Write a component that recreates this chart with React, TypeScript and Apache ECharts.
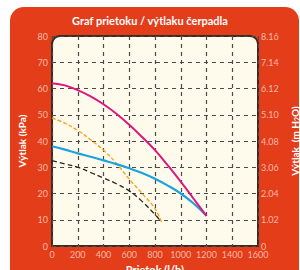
import React, { useEffect, useRef } from "react";
import * as echarts from "echarts";

const flowMain = [0, 100, 200, 300, 400, 500, 600, 700, 800, 900, 1000, 1100, 1200];
const pressureMagenta = [62, 61.2, 59.4, 57, 54, 50.4, 46.2, 41.5, 36.5, 30.7, 24.5, 18, 11.5];
const pressureBlue = [38, 36.7, 35.3, 34, 32.6, 31.2, 29.6, 27.8, 25.6, 23, 20, 16.2, 11.5];
const flowOrange = [0, 100, 200, 300, 400, 500, 600, 700, 800, 855];
const pressureOrange = [48.8, 46.8, 44, 40.5, 36.5, 31.5, 25.5, 20, 14.2, 8.5];
const flowBlack = [0, 100, 200, 300, 400, 500, 600, 700, 800, 845];
const pressureBlack = [32.5, 31.3, 30, 28, 25.9, 23.7, 21, 17, 12, 9.5];

const titleText = "Graf prietoku / výtlaku čerpadla";
const xName = "Prietok (l/h)";
const yLeftName = "Výtlak (kPa)";

const pair = (xs: number[], ys: number[]) => xs.map((x, i) => [x, ys[i]]);

const FONT = "Lato";
const LABEL = "#F8B9A6";
const GRID_L = 52, GRID_T = 36, GRID_R = 42, GRID_B = 24;

export default function App() {
  const ref = useRef<HTMLDivElement>(null);
  useEffect(() => {
    if (!ref.current) return;
    const chart = echarts.init(ref.current, undefined, { renderer: "svg" });
    const splitLine = { show: true, lineStyle: { color: "#4a4a4a", type: [4, 4] as any, width: 1.2 } };
    chart.setOption({
      animation: false,
      backgroundColor: "#ffffff",
      textStyle: { fontFamily: FONT },
      title: {
        text: titleText,
        left: "center",
        top: 10,
        textStyle: { color: "#ffffff", fontSize: 11, fontWeight: "bold", fontFamily: FONT },
      },
      graphic: [
        {
          type: "rect",
          z: -10,
          silent: true,
          shape: { x: 10, y: 7, width: 289, height: 280, r: [14, 14, 0, 0] },
          style: { fill: "#E33D1A" },
        },
        {
          type: "rect",
          z: -9,
          silent: true,
          shape: { x: GRID_L, y: GRID_T, width: 300 - GRID_L - GRID_R, height: 270 - GRID_T - GRID_B, r: [8, 8, 0, 0] },
          style: { fill: "#FFFBEC", stroke: "#3B2A24", lineWidth: 2 },
        },
      ],
      grid: { left: GRID_L, top: GRID_T, right: GRID_R, bottom: GRID_B, containLabel: false, outerBoundsMode: "none" },
      xAxis: {
        type: "value",
        min: 0,
        max: 1600,
        interval: 200,
        name: xName,
        nameLocation: "middle",
        nameGap: 16,
        nameTextStyle: { color: "#ffffff", fontSize: 11, fontWeight: "bold", fontFamily: FONT },
        axisLine: { show: false },
        axisTick: { show: false },
        axisLabel: { color: LABEL, fontSize: 9, margin: 4, fontFamily: FONT, formatter: (v: number) => String(v) },
        splitLine,
      },
      yAxis: [
        {
          type: "value",
          min: 0,
          max: 80,
          interval: 10,
          name: yLeftName,
          nameLocation: "middle",
          nameRotate: 90,
          nameGap: 24,
          nameTextStyle: { color: "#ffffff", fontSize: 10, fontWeight: "bold", fontFamily: FONT },
          axisLine: { show: false },
          axisTick: { show: false },
          axisLabel: { color: LABEL, fontSize: 9, margin: 4, fontFamily: FONT, formatter: (v: number) => String(v) },
          splitLine,
        },
        {
          type: "value",
          position: "right",
          min: 0,
          max: 8.16,
          interval: 1.02,
          name: "Výtlak  (m H{sub|2}O)",
          nameLocation: "middle",
          nameRotate: 90,
          nameGap: 23,
          nameTextStyle: {
            color: "#ffffff",
            fontSize: 10,
            fontWeight: "bold",
            fontFamily: FONT,
            rich: { sub: { color: "#ffffff", fontSize: 7, fontWeight: "bold", fontFamily: FONT, padding: [5, 0, 0, 0] } },
          },
          axisLine: { show: false },
          axisTick: { show: false },
          splitLine: { show: false },
          axisLabel: {
            color: LABEL,
            fontSize: 9,
            margin: 3,
            fontFamily: FONT,
            formatter: (v: number) => (v === 0 ? "0" : v.toFixed(2)),
          },
        },
      ],
      series: [
        {
          type: "line",
          data: pair(flowBlack, pressureBlack),
          smooth: 0.4,
          showSymbol: false,
          lineStyle: { color: "#2A2522", width: 1.3, type: [5, 3] as any },
        },
        {
          type: "line",
          data: pair(flowOrange, pressureOrange),
          smooth: 0.4,
          showSymbol: false,
          lineStyle: { color: "#F6A51E", width: 1.4, type: [4, 2] as any },
        },
        {
          type: "line",
          data: pair(flowMain, pressureBlue),
          smooth: 0.4,
          showSymbol: false,
          lineStyle: { color: "#1BA2E0", width: 2.2 },
        },
        {
          type: "line",
          data: pair(flowMain, pressureMagenta),
          smooth: 0.4,
          showSymbol: false,
          lineStyle: { color: "#E1157B", width: 2 },
        },
      ],
    });
    return () => chart.dispose();
  }, []);
  return <div ref={ref} style={{ position: "fixed", left: 0, top: 0, width: 300, height: 270 }} />;
}
